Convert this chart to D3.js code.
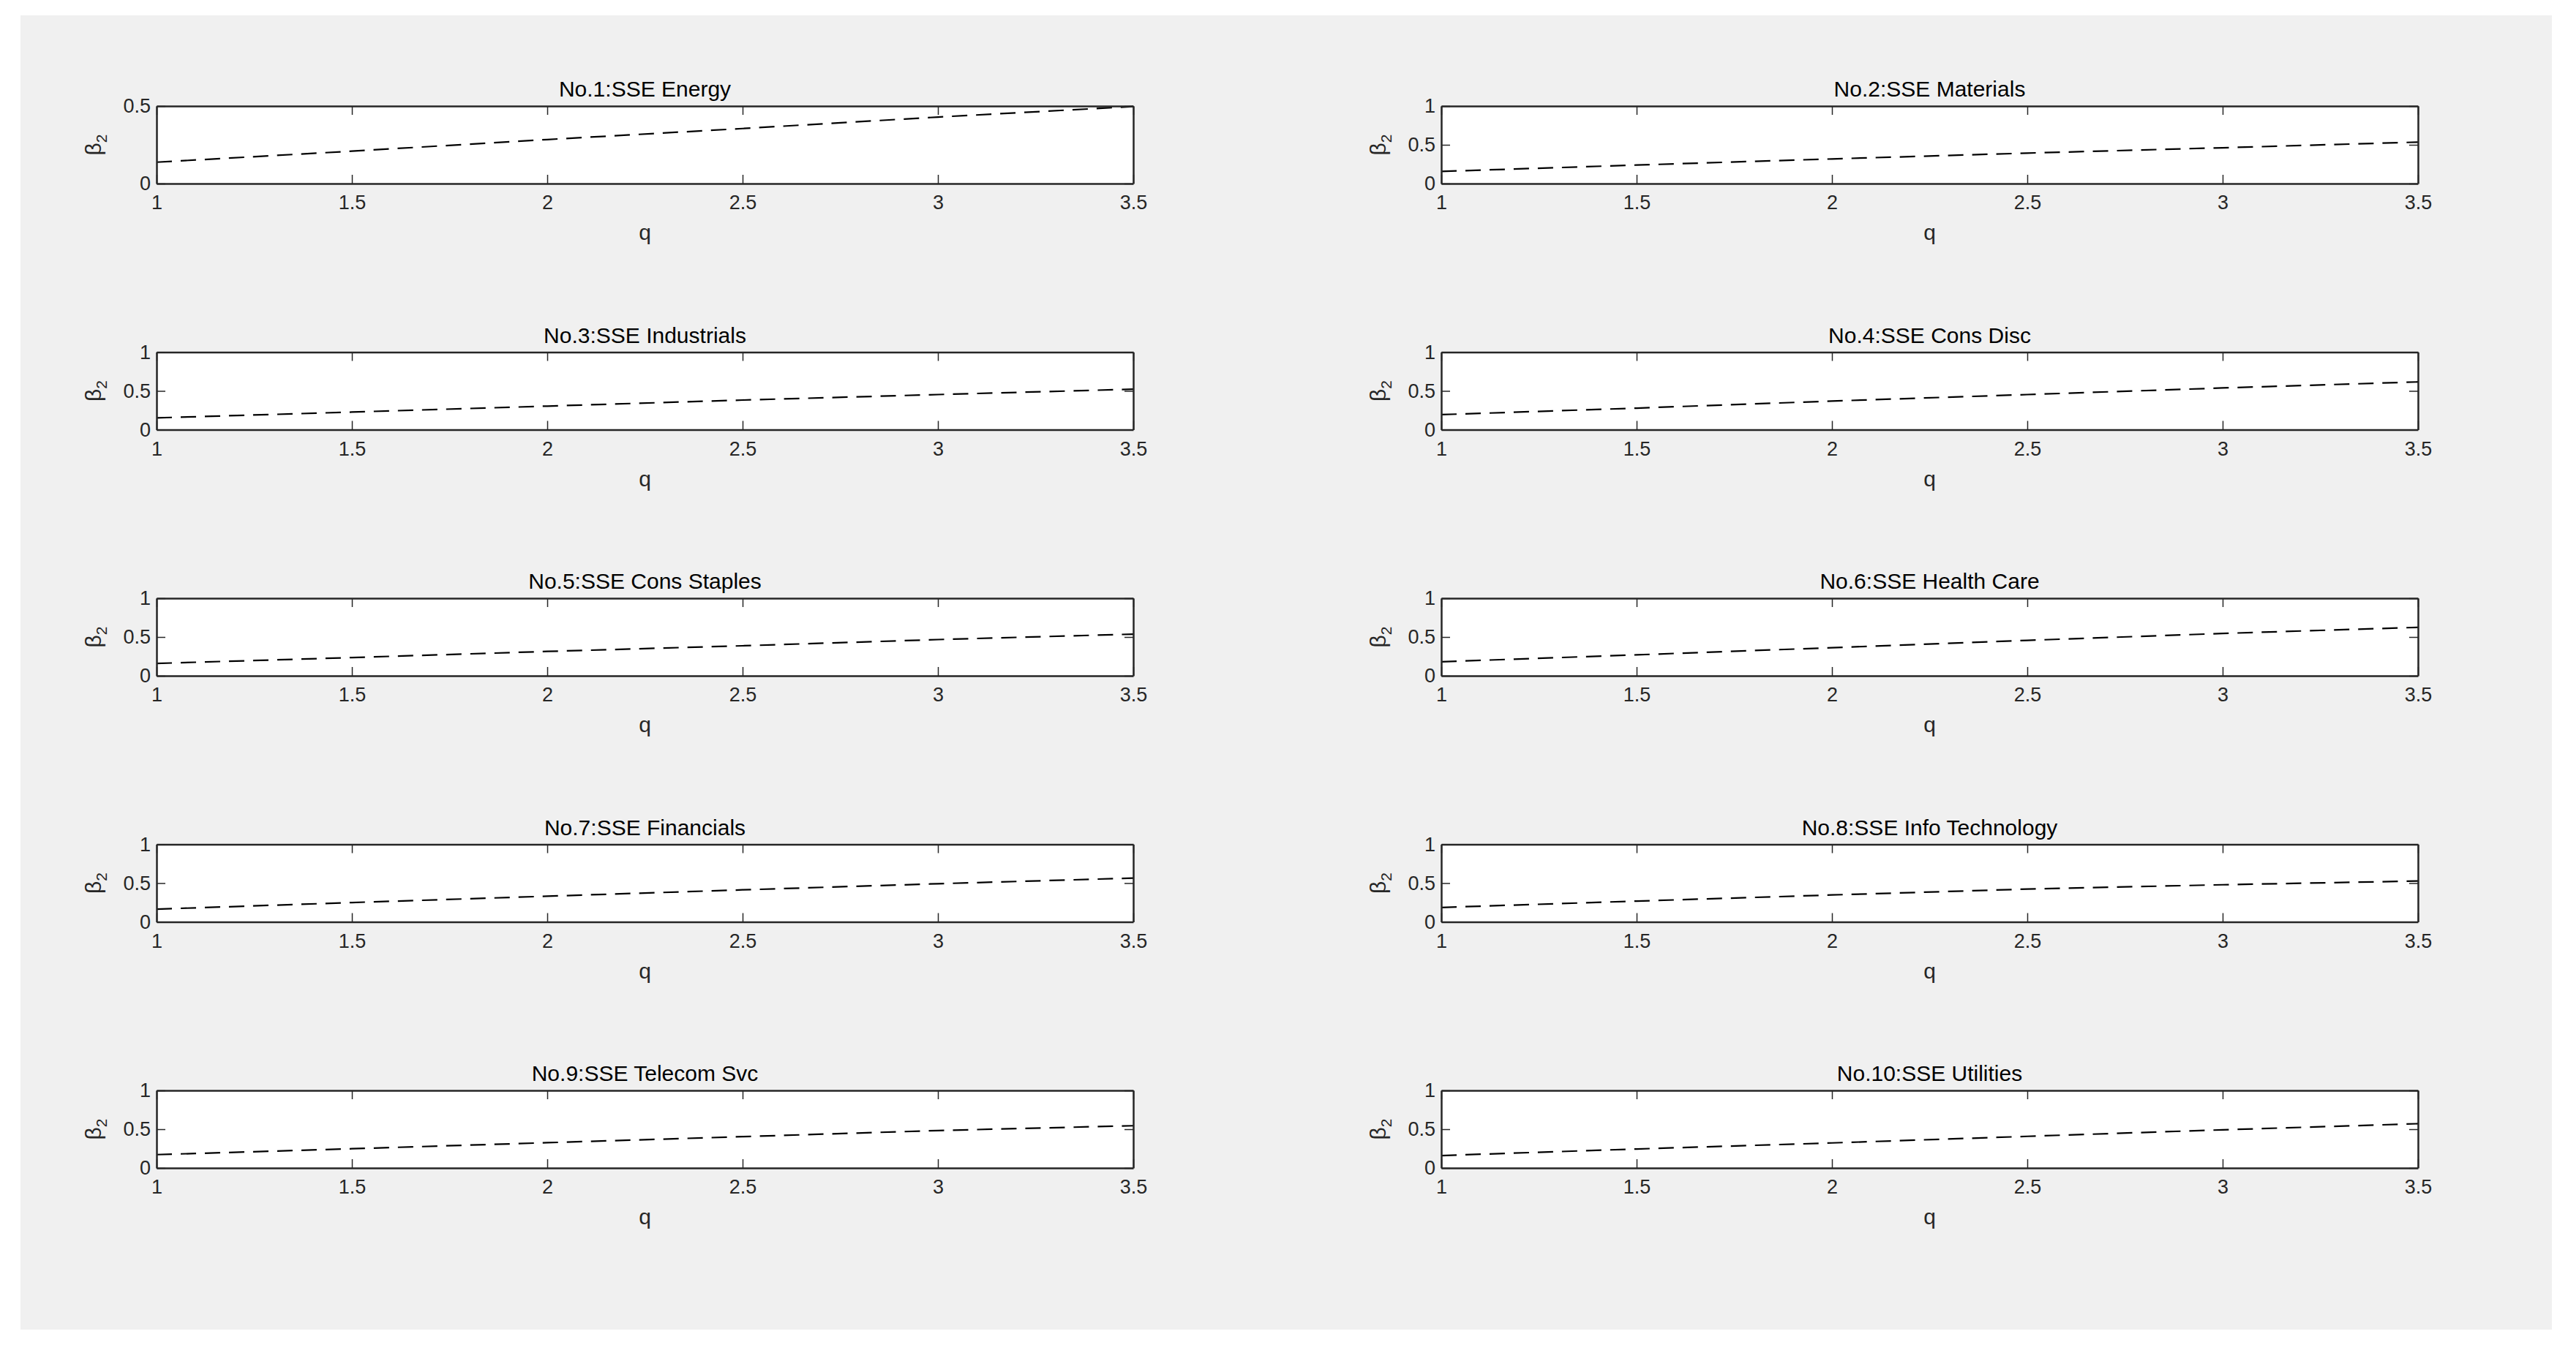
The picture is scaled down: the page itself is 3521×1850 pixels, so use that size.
<!DOCTYPE html>
<html>
<head>
<meta charset="utf-8">
<script src="https://cdn.jsdelivr.net/npm/d3@7"></script>
<style>
  html, body { margin: 0; padding: 0; background: #fff; }
  svg { display: block; font-family: "Liberation Sans", Arial, sans-serif; }
</style>
</head>
<body>
<svg id="fig" width="3521" height="1850"></svg>
<script>
// q grid shared by every panel
let qValues = [1, 1.5, 2, 2.5, 3, 3.5];
let xTicks = [1, 1.5, 2, 2.5, 3, 3.5];

let titles = [
  'No.1:SSE Energy', 'No.2:SSE Materials',
  'No.3:SSE Industrials', 'No.4:SSE Cons Disc',
  'No.5:SSE Cons Staples', 'No.6:SSE Health Care',
  'No.7:SSE Financials', 'No.8:SSE Info Technology',
  'No.9:SSE Telecom Svc', 'No.10:SSE Utilities'
];

// beta_2 at q = 1, 1.5, ..., 3.5
let betaEnergy      = [0.138, 0.209, 0.284, 0.355, 0.429, 0.497];
let betaMaterials   = [0.157, 0.239, 0.318, 0.393, 0.462, 0.535];
let betaIndustrials = [0.152, 0.227, 0.304, 0.382, 0.453, 0.522];
let betaConsDisc    = [0.194, 0.278, 0.369, 0.453, 0.538, 0.616];
let betaConsStaples = [0.159, 0.235, 0.314, 0.387, 0.467, 0.537];
let betaHealthCare  = [0.181, 0.270, 0.362, 0.457, 0.546, 0.625];
let betaFinancials  = [0.164, 0.249, 0.331, 0.413, 0.492, 0.565];
let betaInfoTech    = [0.186, 0.268, 0.347, 0.423, 0.479, 0.527];
let betaTelecom     = [0.172, 0.248, 0.326, 0.404, 0.483, 0.545];
let betaUtilities   = [0.160, 0.245, 0.323, 0.408, 0.492, 0.571];

// upper y limit of each panel (first one auto-scaled to 0.5)
let yMaxes = [0.5, 1, 1, 1, 1, 1, 1, 1, 1, 1];

let series = [
  betaEnergy, betaMaterials, betaIndustrials, betaConsDisc, betaConsStaples,
  betaHealthCare, betaFinancials, betaInfoTech, betaTelecom, betaUtilities
];

(function() {
  let svg = d3.select('#fig');
  let axisColor = '#262626';

  // grey figure background
  svg.append('rect')
    .attr('x', 28).attr('y', 21)
    .attr('width', 3460).attr('height', 1797)
    .attr('fill', '#f0f0f0');

  let colLeft = [214, 1970];
  let boxWidth = 1335;
  let boxHeight = 106;
  let rowTop = (r) => 145 + r * 336.5;

  series.forEach((values, i) => {
    let col = i % 2, row = Math.floor(i / 2);
    let left = colLeft[col], right = left + boxWidth;
    let top = rowTop(row), bottom = top + boxHeight;
    let yMax = yMaxes[i];
    let yTicks = yMax === 1 ? [0, 0.5, 1] : [0, 0.5];

    let x = d3.scaleLinear().domain([1, 3.5]).range([left, right]);
    let y = d3.scaleLinear().domain([0, yMax]).range([bottom, top]);

    let g = svg.append('g').attr('class', 'panel');

    g.append('rect')
      .attr('x', left).attr('y', top)
      .attr('width', boxWidth).attr('height', boxHeight)
      .attr('fill', 'white');

    // data line
    let line = d3.line().x((d, k) => x(qValues[k])).y((d) => y(d));
    g.append('path')
      .datum(values)
      .attr('d', line)
      .attr('fill', 'none')
      .attr('stroke', 'black')
      .attr('stroke-width', 2.2)
      .attr('stroke-dasharray', '21,12');

    // axes, ticks pointing inside like MATLAB
    let styleAxis = (sel) => {
      sel.select('.domain').attr('stroke', axisColor).attr('stroke-width', 2.5);
      sel.selectAll('.tick line').attr('stroke', axisColor).attr('stroke-width', 1.5);
      sel.selectAll('.tick text')
        .attr('fill', axisColor)
        .style('font-size', '27px');
    };

    g.append('g')
      .attr('transform', `translate(0,${bottom})`)
      .call(d3.axisBottom(x).tickValues(xTicks).tickFormat(d3.format('')).tickSizeInner(-12).tickSizeOuter(0).tickPadding(16))
      .call(styleAxis);

    g.append('g')
      .attr('transform', `translate(0,${top})`)
      .call(d3.axisTop(x).tickValues(xTicks).tickFormat('').tickSizeInner(-12).tickSizeOuter(0))
      .call(styleAxis);

    g.append('g')
      .attr('transform', `translate(${left},0)`)
      .call(d3.axisLeft(y).tickValues(yTicks).tickFormat(d3.format('')).tickSizeInner(-12).tickSizeOuter(0).tickPadding(8))
      .call(styleAxis);

    g.append('g')
      .attr('transform', `translate(${right},0)`)
      .call(d3.axisRight(y).tickValues(yTicks).tickFormat('').tickSizeInner(-12).tickSizeOuter(0))
      .call(styleAxis);

    g.selectAll('.domain').attr('fill', 'none');

    // title
    g.append('text')
      .attr('x', (left + right) / 2)
      .attr('y', top - 13)
      .attr('text-anchor', 'middle')
      .attr('fill', 'black')
      .style('font-size', '30px')
      .text(titles[i]);

    // x label
    g.append('text')
      .attr('x', (left + right) / 2)
      .attr('y', bottom + 77)
      .attr('text-anchor', 'middle')
      .attr('fill', axisColor)
      .style('font-size', '30px')
      .text('q');

    // y label: beta with subscript 2
    let yl = g.append('text')
      .attr('transform', `translate(${left - 76},${(top + bottom) / 2}) rotate(-90)`)
      .attr('text-anchor', 'middle')
      .attr('fill', axisColor)
      .style('font-size', '30px');
    yl.append('tspan').text('β');
    yl.append('tspan').attr('dy', 8).style('font-size', '21px').text('2');
  });
})();
</script>
</body>
</html>
